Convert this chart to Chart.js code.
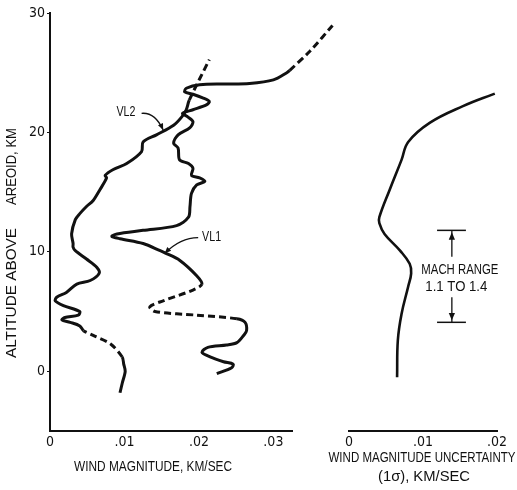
<!DOCTYPE html>
<html><head><meta charset="utf-8">
<script src="https://cdn.jsdelivr.net/npm/chart.js@4.4.0/dist/chart.umd.min.js"></script>
<style>
html,body{margin:0;padding:0;background:#fff;}
#wrap{position:relative;width:517px;height:490px;background:#fff;}
canvas{position:absolute;left:0;top:0;}
</style></head><body>
<div id="wrap"><canvas id="rightChart" width="517" height="490"></canvas><canvas id="leftChart" width="517" height="490"></canvas></div>
<script>
// ---- tick labels ----
const altTicks = [0, 10, 20, 30];
const windTicks = [0, 0.01, 0.02, 0.03];
const windTickLabels = ['0', '.01', '.02', '.03'];
const uncTicks = [0, 0.01, 0.02];
const uncTickLabels = ['0', '.01', '.02'];

// ---- VL1 wind profile (altitude km, wind km/s) ----
const vl1Alt  = [-0.2, 0.3, 0.6, 0.8, 1.2, 1.6, 2.0, 2.2, 2.4, 3.0, 3.4, 4.1, 4.4, 4.7, 5.0, 5.4, 5.9, 6.8, 7.3, 8.0, 9.3, 9.9, 10.1, 10.7, 11.1, 11.3, 11.5, 11.8, 12.2, 12.9, 13.8, 14.9, 15.6, 15.9, 16.2, 16.4, 17.0, 17.4, 17.7, 18.7, 19.1, 19.8, 20.4, 20.9, 21.3, 21.6, 21.9, 22.3, 22.6, 22.9, 23.2, 23.4, 23.7, 24.0, 24.05, 24.1, 24.4, 25.0, 25.2, 26.8, 29.0];
const vl1Wind = [0.0224, 0.0244, 0.0246, 0.0233, 0.0215, 0.0204, 0.0212, 0.0237, 0.0251, 0.0260, 0.0264, 0.0262, 0.0251, 0.0197, 0.0141, 0.0134, 0.0152, 0.0192, 0.0204, 0.0197, 0.0174, 0.0155, 0.0148, 0.0125, 0.0094, 0.0083, 0.0090, 0.0125, 0.0170, 0.0186, 0.0188, 0.0190, 0.0197, 0.0208, 0.0201, 0.0190, 0.0192, 0.0186, 0.0174, 0.0172, 0.0166, 0.0172, 0.0188, 0.0192, 0.0185, 0.0178, 0.0192, 0.0210, 0.0214, 0.0205, 0.0192, 0.0181, 0.0183, 0.0201, 0.0235, 0.0268, 0.0300, 0.0318, 0.0322, 0.0349, 0.0380];
const vl1DashedAlt = [[4.4, 7.3], [25.2, 29.0]];

// ---- VL2 wind profile ----
const vl2Alt  = [-1.8, -1.0, 0.0, 0.6, 1.2, 2.3, 3.0, 3.4, 3.8, 4.1, 4.3, 4.5, 4.7, 5.0, 5.5, 5.9, 6.2, 6.6, 7.3, 7.6, 8.2, 8.7, 9.4, 10.1, 10.4, 10.7, 11.5, 12.7, 13.2, 13.8, 14.3, 15.2, 16.2, 16.4, 16.9, 17.4, 18.4, 19.2, 19.8, 20.6, 21.3, 21.9, 22.7, 26.1];
const vl2Wind = [0.0094, 0.0097, 0.0101, 0.0099, 0.0097, 0.0081, 0.0058, 0.0045, 0.0040, 0.0027, 0.0016, 0.0020, 0.0038, 0.0040, 0.0018, 0.0007, 0.0009, 0.0022, 0.0036, 0.0054, 0.0066, 0.0063, 0.0049, 0.0034, 0.0031, 0.0031, 0.0029, 0.0034, 0.0040, 0.0049, 0.0058, 0.0067, 0.0076, 0.0074, 0.0085, 0.0103, 0.0123, 0.0125, 0.0143, 0.0166, 0.0177, 0.0183, 0.0187, 0.0214];
const vl2DashedAlt = [[1.2, 3.4], [22.7, 26.1]];

// ---- wind magnitude uncertainty (1 sigma) ----
const uncAlt  = [-0.5, 2.6, 4.8, 7.1, 8.2, 9.0, 10.1, 11.5, 12.4, 12.9, 15.2, 17.7, 19.2, 20.8, 22.2, 23.25];
const uncWind = [0.0065, 0.0066, 0.0071, 0.0080, 0.0084, 0.0082, 0.0069, 0.0048, 0.0041, 0.0041, 0.0055, 0.0071, 0.0080, 0.0109, 0.0154, 0.0197];

// ---- Mach range annotation (altitudes, km) ----
const machRangeAlt = [4.1, 11.8];
const machBarWind = [0.0119, 0.0158];
const machArrowWind = 0.0139;
const machArrowTopAlt = [11.8, 9.6];
const machArrowBottomAlt = [6.2, 4.1];
const machLabel = ['MACH RANGE', '1.1 TO 1.4'];

// ---- curve labels (anchor positions in data units) ----
const vl2Label = {text: 'VL2', wind: 0.0102, alt: 21.7, from: [0.0123, 21.6], ctrl: [0.0141, 21.7], to: [0.0152, 20.2]};
const vl1Label = {text: 'VL1', wind: 0.0217, alt: 11.2, from: [0.0199, 11.2], ctrl: [0.0175, 11.2], to: [0.0154, 9.87]};

const TICKFONT = "'DejaVu Sans Condensed','Liberation Sans Narrow',sans-serif";
const TXTFONT = "'Liberation Sans',Arial,sans-serif";
const INK = '#111';

function pts(xs, ys) { return xs.map((x, i) => ({x: x, y: ys[i]})); }
function dashedSeg(ranges) {
  return ctx => {
    const a = ctx.p0.parsed.y, b = ctx.p1.parsed.y;
    return ranges.some(r => a >= r[0] - 1e-9 && b <= r[1] + 1e-9) ? [7, 4] : undefined;
  };
}

function curveDs(xs, ys, dashed) {
  return {
    data: pts(xs, ys), borderColor: INK, borderWidth: 3, pointRadius: 0, tension: 0.3,
    fill: false, clip: false, borderCapStyle: 'butt', borderJoinStyle: 'round',
    segment: dashed ? {borderDash: dashedSeg(dashed)} : undefined
  };
}

function yScale(display) {
  const s = {
    type: 'linear', min: -5, max: 30, display: display,
    afterBuildTicks: s => { s.ticks = altTicks.map(v => ({value: v})); },
    border: {display: true, color: INK, width: 2},
    grid: {display: true, drawOnChartArea: false, drawTicks: true, tickLength: 3, color: INK},
    ticks: {color: INK, font: {family: TICKFONT, size: 14}, padding: 2, callback: v => String(v)}
  };
  if (display) s.afterFit = sc => { sc.width = 50; };
  return s;
}
function xScale(max, ticks, labels) {
  return {
    type: 'linear', min: 0, max: max,
    afterBuildTicks: s => { s.ticks = ticks.map(v => ({value: v})); },
    afterFit: s => { s.height = 59; },
    border: {display: true, color: INK, width: 2},
    grid: {display: false},
    ticks: {color: INK, font: {family: TICKFONT, size: 14}, padding: -5, maxRotation: 0, autoSkip: false,
      callback: (v, i) => labels[i]}
  };
}

// draw text centred at (cx, cy), squeezed/stretched horizontally to a given width
function fitText(ctx, text, cx, cy, width, rot) {
  ctx.save();
  ctx.translate(cx, cy);
  if (rot) ctx.rotate(rot);
  const w = ctx.measureText(text).width;
  ctx.scale(width / w, 1);
  ctx.fillText(text, 0, 0);
  ctx.restore();
}

function arrowHead(ctx, x, y, ang, size) {
  ctx.beginPath();
  ctx.moveTo(x, y);
  ctx.lineTo(x - size * Math.cos(ang - 0.4), y - size * Math.sin(ang - 0.4));
  ctx.lineTo(x - size * Math.cos(ang + 0.4), y - size * Math.sin(ang + 0.4));
  ctx.closePath();
  ctx.fill();
}

const leftText = {
  id: 'leftText',
  afterDraw(chart) {
    const {ctx, chartArea: ca, scales: {x, y}} = chart;
    ctx.save();
    ctx.fillStyle = INK; ctx.strokeStyle = INK;
    ctx.font = '14px ' + TXTFONT;
    ctx.textAlign = 'center'; ctx.textBaseline = 'middle';
    fitText(ctx, 'WIND MAGNITUDE, KM/SEC', ca.left + 103, ca.bottom + 36, 158);
    fitText(ctx, 'ALTITUDE ABOVE', 12, 293, 130, -Math.PI / 2);
    fitText(ctx, 'AREOID, KM', 12, 166.5, 77, -Math.PI / 2);
    [vl2Label, vl1Label].forEach(l => {
      fitText(ctx, l.text, x.getPixelForValue(l.wind), y.getPixelForValue(l.alt), 19);
      const fx = x.getPixelForValue(l.from[0]), fy = y.getPixelForValue(l.from[1]);
      const cx = x.getPixelForValue(l.ctrl[0]), cy = y.getPixelForValue(l.ctrl[1]);
      const tx = x.getPixelForValue(l.to[0]), ty = y.getPixelForValue(l.to[1]);
      ctx.lineWidth = 1.3;
      ctx.beginPath(); ctx.moveTo(fx, fy); ctx.quadraticCurveTo(cx, cy, tx, ty); ctx.stroke();
      arrowHead(ctx, tx, ty, Math.atan2(ty - cy, tx - cx), 7);
    });
    ctx.restore();
  }
};

const rightText = {
  id: 'rightText',
  afterDraw(chart) {
    const {ctx, chartArea: ca, scales: {x, y}} = chart;
    ctx.save();
    ctx.fillStyle = INK; ctx.strokeStyle = INK;
    ctx.font = '14px ' + TXTFONT;
    ctx.textAlign = 'center'; ctx.textBaseline = 'middle';
    fitText(ctx, 'WIND MAGNITUDE UNCERTAINTY', ca.left + 73, ca.bottom + 27, 187);
    fitText(ctx, '(1\u03C3), KM/SEC', ca.left + 75, ca.bottom + 46, 92);
    const mx = x.getPixelForValue(machArrowWind);
    fitText(ctx, machLabel[0], mx + 8, y.getPixelForValue(8.45), 77);
    fitText(ctx, machLabel[1], mx + 4.5, y.getPixelForValue(7.06), 62);
    arrowHead(ctx, mx, y.getPixelForValue(machArrowTopAlt[0]) + 2, -Math.PI / 2, 8);
    arrowHead(ctx, mx, y.getPixelForValue(machArrowBottomAlt[1]) - 2, Math.PI / 2, 8);
    ctx.restore();
  }
};

function thin(data, w) {
  return {data: data, borderColor: INK, borderWidth: w, pointRadius: 0, tension: 0, fill: false, clip: false};
}

new Chart(document.getElementById('leftChart'), {
  type: 'line',
  data: {datasets: [
    curveDs(vl1Wind, vl1Alt, vl1DashedAlt),
    curveDs(vl2Wind, vl2Alt, vl2DashedAlt)
  ]},
  options: {
    responsive: false, animation: false, events: [],
    layout: {padding: {left: 0, top: 13, right: 225, bottom: 0}},
    plugins: {legend: {display: false}, tooltip: {enabled: false}},
    scales: {x: xScale(0.0325, windTicks, windTickLabels), y: yScale(true)}
  },
  plugins: [leftText]
});

new Chart(document.getElementById('rightChart'), {
  type: 'line',
  data: {datasets: [
    Object.assign(curveDs(uncWind, uncAlt, null), {tension: 0.4, borderWidth: 2.6}),
    thin(machBarWind.map(v => ({x: v, y: machRangeAlt[1]})), 1.5),
    thin(machBarWind.map(v => ({x: v, y: machRangeAlt[0]})), 1.5),
    thin(machArrowTopAlt.map(a => ({x: machArrowWind, y: a})), 1.3),
    thin(machArrowBottomAlt.map(a => ({x: machArrowWind, y: a})), 1.3)
  ]},
  options: {
    responsive: false, animation: false, events: [],
    layout: {padding: {left: 349, top: 13, right: 20, bottom: 0}},
    plugins: {legend: {display: false}, tooltip: {enabled: false}},
    scales: {x: xScale(0.02, uncTicks, uncTickLabels), y: yScale(false)}
  },
  plugins: [rightText]
});
</script>
</body></html>
